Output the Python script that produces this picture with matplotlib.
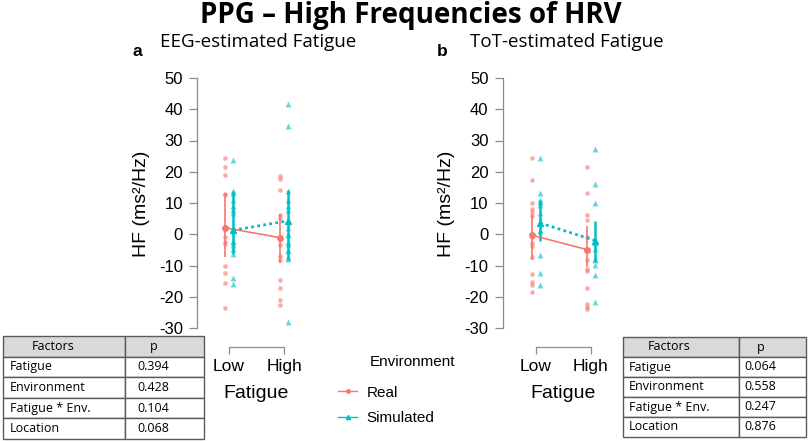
import numpy as np
import matplotlib
matplotlib.use("Agg")
import matplotlib.pyplot as plt
from matplotlib.lines import Line2D
from matplotlib.patches import Rectangle

plt.rcParams["axes.unicode_minus"] = False

# ---- data ----
levels = ["Low", "High"]

# EEG-estimated fatigue, individual points
eeg_real_low = [24.4, 21.5, 18.9, 13.0, 12.5, 2.1, -0.9, -2.5, -3.0, -10.1, -12.3, -15.7, -23.6]
eeg_real_high = [18.6, 17.6, 14.1, 6.1, 5.3, -1.1, -3.5, -7.0, -8.3, -14.5, -17.3, -21.1, -22.7]
eeg_sim_low = [23.9, 13.9, 13.2, 11.1, 9.0, 7.7, 6.8, 1.3, -2.1, -2.5, -3.5, -4.6, -6.2, -13.9, -16.0]
eeg_sim_high = [41.6, 34.7, 13.9, 11.1, 9.0, 7.7, 4.3, 2.1, 0.2, -0.3, -2.5, -3.0, -4.9, -5.3,
                -7.3, -7.8, -28.1]
# EEG means and intervals
eeg_real_mean = [2.1, -1.1]
eeg_real_lo = [-7.2, -9.2]
eeg_real_hi = [13.2, 6.6]
eeg_sim_mean = [1.3, 4.3]
eeg_sim_lo = [-6.4, -8.1]
eeg_sim_hi = [13.9, 14.3]

# ToT-estimated fatigue, individual points
tot_real_low = [24.4, 17.5, 9.9, 8.2, 7.1, 5.8, -0.3, -0.8, -2.8, -3.8, -7.3, -12.6, -15.3, -16.1, -18.5]
tot_real_high = [21.5, 13.3, 6.1, 4.5, -0.8, -4.9, -8.1, -11.0, -11.7, -17.1, -22.4, -23.3, -23.9]
tot_sim_low = [24.4, 13.3, 10.9, 10.3, 9.3, 6.8, 3.6, 1.3, 1.0, -6.7, -12.4, -16.3]
tot_sim_high = [27.2, 16.0, 10.1, -2.1, -2.8, -4.6, -7.8, -8.3, -9.9, -12.9, -21.7]
# ToT means and intervals
tot_real_mean = [-0.3, -4.9]
tot_real_lo = [-8.3, -10.5]
tot_real_hi = [6.6, 2.8]
tot_sim_mean = [3.6, -2.0]
tot_sim_lo = [-2.0, -8.4]
tot_sim_hi = [11.0, 4.2]

# ANOVA tables
factors = ["Fatigue", "Environment", "Fatigue * Env.", "Location"]
eeg_p = ["0.394", "0.428", "0.104", "0.068"]
tot_p = ["0.064", "0.558", "0.247", "0.876"]

REAL = "#F8766D"
SIM = "#00BFC4"
AXC = "#8c8c8c"
RFONT = "Liberation Sans"
OFONT = "Open Sans"

W, H = 809, 442
fig = plt.figure(figsize=(W / 100, H / 100), dpi=100)


def px_axes(left, top, width, height):
    return fig.add_axes([left / W, 1 - (top + height) / H, width / W, height / H])


def draw_panel(ax, spine_to_low, real_pts, sim_pts, r_mean, r_lo, r_hi, s_mean, s_lo, s_hi):
    pos = np.arange(1, 3)
    dodge = 0.075
    unit = 55.0  # px per category
    width_px = ax.get_position().width * W
    x_left = 1 - spine_to_low / unit
    ax.set_xlim(x_left, x_left + width_px / unit)
    ax.set_ylim(-30, 50)

    for i in range(2):
        ax.scatter(np.full(len(real_pts[i]), pos[i] - dodge), real_pts[i], s=11, marker="o",
                   color=REAL, alpha=0.6, lw=0, clip_on=False)
        ax.scatter(np.full(len(sim_pts[i]), pos[i] + dodge), sim_pts[i], s=18, marker="^",
                   color=SIM, alpha=0.6, lw=0, clip_on=False)
    ax.vlines(pos - dodge, r_lo, r_hi, color=REAL, lw=1.2)
    ax.vlines(pos + dodge, s_lo, s_hi, color=SIM, lw=1.8)
    ax.plot(pos - dodge, r_mean, color=REAL, lw=1.2, marker="o", ms=4)
    ax.plot(pos + dodge, s_mean, color=SIM, lw=2.0, ls=(0, (1, 1.2)), marker="^", ms=5)

    for s in ["top", "right"]:
        ax.spines[s].set_visible(False)
    ax.spines["left"].set_bounds(-30, 50)
    ax.spines["bottom"].set_bounds(1, 2)
    ax.spines["bottom"].set_position(("outward", 14))
    for s in ["left", "bottom"]:
        ax.spines[s].set_color(AXC)
        ax.spines[s].set_linewidth(0.9)
    ax.set_yticks(range(-30, 51, 10))
    ax.set_xticks(pos, levels)
    ax.tick_params(axis="y", length=6, width=0.9, color=AXC, pad=4, labelsize=12)
    ax.tick_params(axis="x", length=5, width=0.9, color=AXC, pad=3, labelsize=12.5)
    for lab in ax.get_xticklabels() + ax.get_yticklabels():
        lab.set_fontfamily(RFONT)
    ax.patch.set_alpha(0)

    ax.set_ylabel("HF (ms²/Hz)", fontsize=14, fontfamily=RFONT, va="center")
    ax.yaxis.set_label_coords(-56 / width_px, 0.496)
    ax.set_xlabel("Fatigue", fontsize=14, fontfamily=RFONT, va="center")
    ax.xaxis.set_label_coords((1.5 - x_left) * unit / width_px, -65 / 250)


def draw_table(ax, names, pvals, split):
    ax.set_xlim(0, 1)
    ax.set_ylim(0, len(names) + 1)
    ax.axis("off")
    rows = [("Factors", "p")] + list(zip(names, pvals))
    n = len(rows)
    for i, (name, p) in enumerate(rows):
        y0 = n - i - 1
        face = "#d9d9d9" if i == 0 else "white"
        ax.add_patch(Rectangle((0, y0), split, 1, fc=face, ec="#5a5a5a", lw=1, clip_on=False))
        ax.add_patch(Rectangle((split, y0), 1 - split, 1, fc=face, ec="#5a5a5a", lw=1, clip_on=False))
        if i == 0:
            ax.text(0.25, y0 + 0.5, name, ha="center", va="center", fontsize=9, fontfamily=OFONT)
        else:
            ax.text(0.033, y0 + 0.5, name, ha="left", va="center", fontsize=9, fontfamily=OFONT)
        ax.text(0.75, y0 + 0.5, p, ha="center", va="center", fontsize=9, fontfamily=OFONT)


ax_a = px_axes(197, 78, 140, 250)
draw_panel(ax_a, 32, [eeg_real_low, eeg_real_high], [eeg_sim_low, eeg_sim_high],
           eeg_real_mean, eeg_real_lo, eeg_real_hi, eeg_sim_mean, eeg_sim_lo, eeg_sim_hi)
ax_b = px_axes(502.5, 78, 140, 250)
draw_panel(ax_b, 33.5, [tot_real_low, tot_real_high], [tot_sim_low, tot_sim_high],
           tot_real_mean, tot_real_lo, tot_real_hi, tot_sim_mean, tot_sim_lo, tot_sim_hi)

tab_a = px_axes(3, 336, 201, 103)
draw_table(tab_a, factors, eeg_p, 122 / 201)
tab_b = px_axes(623, 337, 183, 100)
draw_table(tab_b, factors, tot_p, 116 / 183)

# titles
fig.text(411 / W, 1 - 23 / H, "PPG – High Frequencies of HRV", ha="center", va="baseline",
         fontsize=20, fontweight="bold", fontfamily=OFONT)
fig.text(160 / W, 1 - 42 / H, "EEG-estimated Fatigue", ha="left", va="center",
         fontsize=13.5, fontfamily=OFONT)
fig.text(470 / W, 1 - 42 / H, "ToT-estimated Fatigue", ha="left", va="center",
         fontsize=13.5, fontfamily=OFONT)
fig.text(137 / W, 1 - 51 / H, "a", ha="center", va="center", fontsize=12.5,
         fontweight="bold", fontfamily=RFONT)
fig.text(442 / W, 1 - 51 / H, "b", ha="center", va="center", fontsize=12.5,
         fontweight="bold", fontfamily=RFONT)

# legend
fig.text(370 / W, 1 - 362 / H, "Environment", ha="left", va="center", fontsize=11, fontfamily=RFONT)
handles = [Line2D([0], [0], color=REAL, lw=1, marker="o", ms=2.5),
           Line2D([0], [0], color=SIM, lw=1, marker="^", ms=3)]
fig.legend(handles, ["Real", "Simulated"], loc="center left", bbox_to_anchor=(338 / W, 1 - 405.5 / H),
           frameon=False, borderpad=0, borderaxespad=0, handlelength=1.25, handletextpad=0.6,
           labelspacing=0.75, prop={"family": RFONT, "size": 11})

fig.savefig("out.png", dpi=100)
